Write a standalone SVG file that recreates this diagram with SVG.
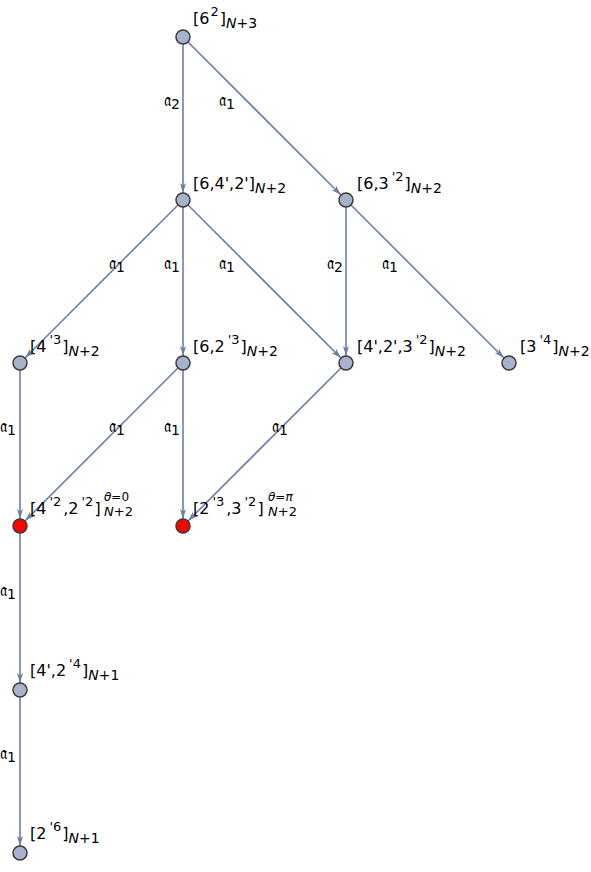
<svg xmlns="http://www.w3.org/2000/svg" width="591" height="872" viewBox="0 0 591 872">
<defs>
<marker id="ah" viewBox="0 0 10 6" refX="10" refY="3" markerWidth="10" markerHeight="6" markerUnits="userSpaceOnUse" orient="auto">
<path d="M0,0 L10,3 L0,6 L2.5,3 Z" fill="#6a7fa8"/>
</marker>
</defs>
<style>
.e{stroke:#6a7fa8;stroke-width:1.6;fill:none;marker-end:url(#ah)}
.n{fill:#a6b3cb;stroke:#3a3a3a;stroke-width:1.5}
.r{fill:#ff0000;stroke:#3a3a3a;stroke-width:1.5}
text{font-family:"DejaVu Sans","Liberation Sans",sans-serif;fill:#000}
.l{font-size:16px}
.el{font-size:17px;text-anchor:middle}
.es{font-size:14px}
.s{font-size:14px}
.p{font-size:13px}
.ts{font-size:12px}
.tb{font-size:13px}
.i{font-style:italic}
</style>
<rect width="591" height="872" fill="#fff"/>
<g id="edges">
<path class="e" d="M183,44 L183,193"/>
<path class="e" d="M188,42 L341,195"/>
<path class="e" d="M178,205 L25,358"/>
<path class="e" d="M183,207 L183,356"/>
<path class="e" d="M188,205 L341,358"/>
<path class="e" d="M346,207 L346,356"/>
<path class="e" d="M351,205 L504,358"/>
<path class="e" d="M20,370 L20,519"/>
<path class="e" d="M178,368 L25,521"/>
<path class="e" d="M183,370 L183,519"/>
<path class="e" d="M341,368 L188,521"/>
<path class="e" d="M20,533 L20,683"/>
<path class="e" d="M20,697 L20,846"/>
<text class="el" x="172" y="106">𝔞<tspan class="es" dy="3">2</tspan></text>
<text class="el" x="227" y="106">𝔞<tspan class="es" dy="3">1</tspan></text>
<text class="el" x="117" y="269">𝔞<tspan class="es" dy="3">1</tspan></text>
<text class="el" x="172" y="269">𝔞<tspan class="es" dy="3">1</tspan></text>
<text class="el" x="227" y="269">𝔞<tspan class="es" dy="3">1</tspan></text>
<text class="el" x="335" y="269">𝔞<tspan class="es" dy="3">2</tspan></text>
<text class="el" x="390" y="269">𝔞<tspan class="es" dy="3">1</tspan></text>
<text class="el" x="8" y="432">𝔞<tspan class="es" dy="3">1</tspan></text>
<text class="el" x="117" y="432">𝔞<tspan class="es" dy="3">1</tspan></text>
<text class="el" x="172" y="432">𝔞<tspan class="es" dy="3">1</tspan></text>
<text class="el" x="280" y="432">𝔞<tspan class="es" dy="3">1</tspan></text>
<text class="el" x="8" y="596">𝔞<tspan class="es" dy="3">1</tspan></text>
<text class="el" x="8" y="759">𝔞<tspan class="es" dy="3">1</tspan></text>
</g>
<g id="n1"><circle class="n" cx="183" cy="37" r="7"/><text class="l" x="193" y="24">[6<tspan class="p" dy="-8" dx="1">2</tspan><tspan dy="8" dx="1">]</tspan><tspan class="s i" dy="4">N</tspan><tspan class="s">+3</tspan></text></g>
<g id="n2"><circle class="n" cx="183" cy="200" r="7"/><text class="l" x="193" y="189">[6,4',2']<tspan class="s i" dy="4">N</tspan><tspan class="s">+2</tspan></text></g>
<g id="n3"><circle class="n" cx="346" cy="200" r="7"/><text class="l" x="357" y="189">[6,3<tspan class="p" dy="-8" dx="3">'2</tspan><tspan dy="8" dx="1">]</tspan><tspan class="s i" dy="4">N</tspan><tspan class="s">+2</tspan></text></g>
<g id="n4"><circle class="n" cx="20" cy="363" r="7"/><text class="l" x="30" y="352">[4<tspan class="p" dy="-8" dx="3">'3</tspan><tspan dy="8" dx="1">]</tspan><tspan class="s i" dy="4">N</tspan><tspan class="s">+2</tspan></text></g>
<g id="n5"><circle class="n" cx="183" cy="363" r="7"/><text class="l" x="193" y="352">[6,2<tspan class="p" dy="-8" dx="3">'3</tspan><tspan dy="8" dx="1">]</tspan><tspan class="s i" dy="4">N</tspan><tspan class="s">+2</tspan></text></g>
<g id="n6"><circle class="n" cx="346" cy="363" r="7"/><text class="l" x="357" y="352">[4',2',3<tspan class="p" dy="-8" dx="3">'2</tspan><tspan dy="8" dx="1">]</tspan><tspan class="s i" dy="4">N</tspan><tspan class="s">+2</tspan></text></g>
<g id="n7"><circle class="n" cx="509" cy="363" r="7"/><text class="l" x="520" y="352">[3<tspan class="p" dy="-8" dx="3">'4</tspan><tspan dy="8" dx="1">]</tspan><tspan class="s i" dy="4">N</tspan><tspan class="s">+2</tspan></text></g>
<g id="n8"><circle class="r" cx="20" cy="526" r="7"/><text class="l" x="30" y="514">[4<tspan class="p" dy="-8" dx="3">'2</tspan><tspan dy="8" dx="2">,2</tspan><tspan class="p" dy="-8" dx="3">'2</tspan><tspan dy="8" dx="1">]</tspan><tspan class="ts" x="104" dy="-13"><tspan class="i">θ</tspan>=0</tspan><tspan class="tb" x="104" dy="15"><tspan class="i">N</tspan>+2</tspan></text></g>
<g id="n9"><circle class="r" cx="183" cy="526" r="7"/><text class="l" x="193" y="514">[2<tspan class="p" dy="-8" dx="3">'3</tspan><tspan dy="8" dx="2">,3</tspan><tspan class="p" dy="-8" dx="3">'2</tspan><tspan dy="8" dx="1">]</tspan><tspan class="ts" x="268" dy="-13"><tspan class="i">θ</tspan>=<tspan class="i">π</tspan></tspan><tspan class="tb" x="268" dy="15"><tspan class="i">N</tspan>+2</tspan></text></g>
<g id="n10"><circle class="n" cx="20" cy="690" r="7"/><text class="l" x="30" y="676">[4',2<tspan class="p" dy="-8" dx="3">'4</tspan><tspan dy="8" dx="1">]</tspan><tspan class="s i" dy="4">N</tspan><tspan class="s">+1</tspan></text></g>
<g id="n11"><circle class="n" cx="20" cy="853" r="7"/><text class="l" x="30" y="839">[2<tspan class="p" dy="-8" dx="3">'6</tspan><tspan dy="8" dx="1">]</tspan><tspan class="s i" dy="4">N</tspan><tspan class="s">+1</tspan></text></g>
</svg>
